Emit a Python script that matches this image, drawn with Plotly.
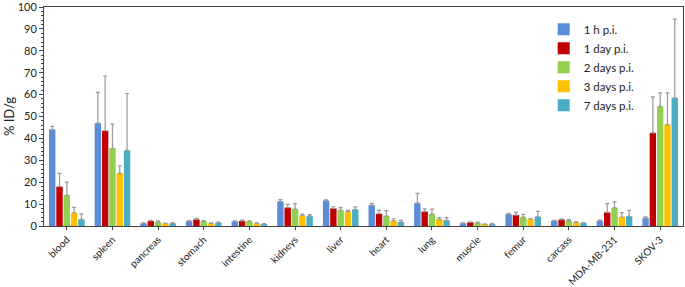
import plotly.graph_objects as go

categories = ["blood", "spleen", "pancreas", "stomach", "intestine", "kidneys", "liver",
              "heart", "lung", "muscle", "femur", "carcass", "MDA-MB-231", "SKOV-3"]
series_names = ["1 h p.i.", "1 day p.i.", "2 days p.i.", "3 days p.i.", "7 days p.i."]

v_1h = [44.0, 47.0, 1.2, 2.2, 2.1, 11.2, 11.6, 9.5, 10.4, 1.2, 5.3, 2.4, 2.3, 3.6]
e_1h = [1.5, 14.0, 0.3, 0.3, 0.2, 0.8, 0.3, 0.8, 4.5, 0.2, 0.5, 0.2, 0.4, 0.6]
v_1d = [18.0, 43.5, 2.3, 3.0, 2.3, 8.4, 8.0, 5.6, 6.6, 1.7, 5.0, 2.9, 6.2, 42.5]
e_1d = [6.0, 25.0, 0.3, 0.5, 0.4, 1.5, 0.8, 1.5, 1.2, 0.2, 1.2, 0.4, 4.0, 16.5]
v_2d = [14.0, 35.5, 1.8, 2.1, 2.1, 7.7, 7.2, 4.5, 5.4, 1.4, 4.1, 2.3, 8.3, 54.6]
e_2d = [6.0, 11.0, 0.6, 0.4, 0.3, 2.5, 1.2, 2.5, 2.3, 0.4, 1.2, 0.6, 2.7, 6.2]
v_3d = [6.0, 24.0, 1.1, 1.2, 1.2, 4.8, 6.6, 2.3, 3.0, 0.8, 3.2, 1.7, 4.1, 46.3]
e_3d = [2.5, 3.5, 0.2, 0.2, 0.2, 0.6, 0.5, 1.0, 0.8, 0.2, 0.2, 0.2, 2.0, 14.5]
v_7d = [3.0, 34.5, 1.2, 1.5, 0.8, 4.5, 7.5, 1.8, 2.6, 0.9, 4.2, 1.4, 4.4, 58.5]
e_7d = [2.5, 26.0, 0.3, 0.3, 0.3, 0.7, 1.2, 0.8, 1.2, 0.3, 2.5, 0.2, 2.7, 36.0]

values = [v_1h, v_1d, v_2d, v_3d, v_7d]
errors = [e_1h, e_1d, e_2d, e_3d, e_7d]
colors = ["#5A8CD8", "#C00000", "#92D050", "#FFC000", "#4BACC6"]

font_family = "Lato, Open Sans, sans-serif"

fig = go.Figure()
for name, v, e, c in zip(series_names, values, errors, colors):
    fig.add_trace(go.Bar(
        x=categories, y=v, name=name,
        marker=dict(color=c, line=dict(width=0)),
        error_y=dict(type="data", array=e, symmetric=False, arrayminus=[0] * len(e),
                     color="#9A9A9A", thickness=1.2, width=2),
    ))

fig.update_layout(
    width=685, height=287,
    margin=dict(l=44, r=2, t=7, b=61),
    paper_bgcolor="white", plot_bgcolor="white",
    barmode="group", bargap=0.2, bargroupgap=0.12,
    font=dict(family=font_family, size=11, color="#222"),
    showlegend=True,
    legend=dict(x=0.782, y=0.965, xanchor="left", yanchor="top",
                font=dict(size=11.5, color="#222"), bgcolor="rgba(0,0,0,0)",
                itemwidth=30),
    xaxis=dict(showline=True, linecolor="#444", linewidth=1, mirror=True,
               ticks="outside", ticklen=3, tickcolor="#444", tickangle=-45,
               tickfont=dict(size=10), automargin=False),
    yaxis=dict(range=[0, 100], dtick=10, showline=True, linecolor="#444", linewidth=1,
               mirror=True, ticks="outside", ticklen=4, tickcolor="#444",
               showgrid=False, zeroline=False, automargin=False,
               minor=dict(dtick=2, ticks="outside", ticklen=2, tickcolor="#444"),
               title=dict(text="% ID/g", font=dict(size=13), standoff=0),
               tickfont=dict(size=11), ticklabeloverflow="allow"),
)

fig.write_html("out.html", config={"displayModeBar": False},
               post_script="document.body.style.margin='0';document.body.style.overflow='hidden';")
